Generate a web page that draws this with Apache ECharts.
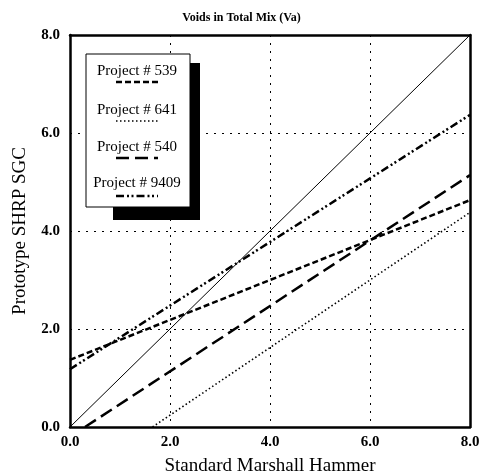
<!DOCTYPE html>
<html>
<head>
<meta charset="utf-8">
<script src="https://cdn.jsdelivr.net/npm/echarts@6/dist/echarts.min.js"></script>
<style>
    html, body { margin: 0; padding: 0; background: #fff; }
    #chart { width: 483px; height: 474px; }
</style>
</head>
<body>
<div id="chart"></div>
<script>
    // tick labels on both axes
    var ticks = [0, 2, 4, 6, 8];

    // fitted lines, [marshall, sgc] end points
    var equality = [[0, 0], [8, 8]];
    var project539 = [[0, 1.37], [8, 4.63]];
    var project641 = [[1.65, 0], [8, 4.38]];
    var project540 = [[0.3, 0], [8, 5.14]];
    var project9409 = [[0, 1.18], [8, 6.37]];

    var legendNames = ['Project # 539', 'Project # 641', 'Project # 540', 'Project # 9409'];
    var dashes = [[6, 3], [1.5, 2.5], [13, 6], [8, 3, 2, 2.5, 2, 3]];
    var widths = [2.5, 1.6, 2.5, 2.5];

    var serif = '"Liberation Serif", "DejaVu Serif", serif';

    function lineSeries(name, data, dash, width) {
        return {
            name: name,
            type: 'line',
            data: data,
            symbol: 'none',
            lineStyle: { color: '#000', width: width, type: dash }
        };
    }

    function axis(extra) {
        return Object.assign({
            type: 'value',
            min: ticks[0],
            max: ticks[ticks.length - 1],
            interval: 2,
            axisLine: { show: true, onZero: false, lineStyle: { color: '#000', width: 2.5 } },
            axisTick: { show: false },
            axisLabel: {
                color: '#000',
                fontFamily: serif,
                fontWeight: 'bold',
                fontSize: 15,
                formatter: function (v) { return v.toFixed(1); }
            },
            splitLine: { show: true, lineStyle: { color: '#000', width: 1, type: [2, 6] } },
            nameLocation: 'middle',
            nameTextStyle: { color: '#000', fontFamily: serif, fontSize: 19 }
        }, extra);
    }

    // just the frame on top and right
    var frameOnly = { axisLabel: { show: false }, splitLine: { show: false } };

    // legend box drawn by hand: label above its line sample
    var legendGraphics = [
        { type: 'rect', shape: { x: 113, y: 63, width: 87, height: 157 }, style: { fill: '#000' } },
        { type: 'rect', shape: { x: 86, y: 54, width: 104, height: 153 }, style: { fill: '#fff', stroke: '#000', lineWidth: 1 } }
    ];
    var textY = [71, 110, 147, 183];
    var sampleY = [82, 121, 158, 196];
    legendNames.forEach(function (name, i) {
        legendGraphics.push({
            type: 'text', x: 137, y: textY[i],
            style: { text: name, fill: '#000', font: '15px ' + serif, textAlign: 'center', textVerticalAlign: 'middle' }
        });
        legendGraphics.push({
            type: 'line', shape: { x1: 116, y1: sampleY[i], x2: 158, y2: sampleY[i] },
            style: { stroke: '#000', lineWidth: widths[i], lineDash: dashes[i] }
        });
    });

    var chart = echarts.init(document.getElementById('chart'), null, {renderer: 'canvas'});
    chart.setOption({
        animation: false,
        backgroundColor: '#fff',
        title: {
            text: 'Voids in Total Mix (Va)',
            left: 'center',
            top: 7,
            textStyle: { fontFamily: serif, fontSize: 12, fontWeight: 'bold', color: '#000' }
        },
        grid: { left: 70, right: 13, top: 35, bottom: 47, outerBoundsMode: 'none' },
        xAxis: [
            axis({ name: 'Standard Marshall Hammer', nameGap: 30, axisLabel: Object.assign({}, axis({}).axisLabel, { margin: 8 }) }),
            axis(Object.assign({ position: 'top' }, frameOnly))
        ],
        yAxis: [
            axis({ name: 'Prototype SHRP SGC', nameGap: 40, axisLabel: Object.assign({}, axis({}).axisLabel, { margin: 10 }) }),
            axis(Object.assign({ position: 'right' }, frameOnly))
        ],
        series: [
            lineSeries('Equality', equality, 'solid', 1),
            lineSeries(legendNames[0], project539, dashes[0], widths[0]),
            lineSeries(legendNames[1], project641, dashes[1], widths[1]),
            lineSeries(legendNames[2], project540, dashes[2], widths[2]),
            lineSeries(legendNames[3], project9409, dashes[3], widths[3])
        ],
        graphic: { elements: legendGraphics.map(function (g) { g.z = 100; return g; }) }
    });
</script>
</body>
</html>
